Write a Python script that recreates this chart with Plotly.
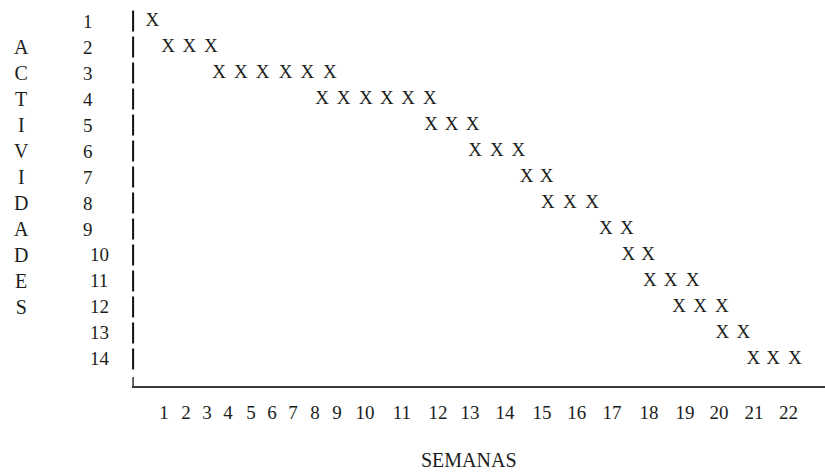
import plotly.graph_objects as go

# ---------------- data ----------------
activities = list(range(1, 15))
weeks = list(range(1, 23))
# position of each week label on the chart's horizontal slot scale (1 unit = one "X" slot)
week_pos = [1.47, 2.49, 3.46, 4.42, 5.48, 6.45, 7.42, 8.43, 9.45, 10.74, 12.44,
            14.10, 15.58, 17.19, 18.89, 20.50, 22.12, 23.82, 25.48, 27.05, 28.66, 30.25]

# every "X" mark: the activity it belongs to and its slot position
mark_activity = [1,
                 2, 2, 2,
                 3, 3, 3, 3, 3, 3,
                 4, 4, 4, 4, 4, 4,
                 5, 5, 5,
                 6, 6, 6,
                 7, 7,
                 8, 8, 8,
                 9, 9,
                 10, 10,
                 11, 11, 11,
                 12, 12, 12,
                 13, 13,
                 14, 14, 14]
mark_slot = [0.94,
             1.67, 2.64, 3.63,
             4.02, 5.02, 6.02, 7.08, 8.08, 9.12,
             8.76, 9.75, 10.78, 11.74, 12.73, 13.73,
             13.78, 14.73, 15.70,
             15.81, 16.81, 17.80,
             18.19, 19.11,
             19.17, 20.18, 21.20,
             21.84, 22.80,
             22.87, 23.79,
             23.87, 24.82, 25.84,
             25.21, 26.18, 27.18,
             27.21, 28.17,
             28.63, 29.55, 30.55]

y_title = "ACTIVIDADES"
x_title = "SEMANAS"

# ---------------- style ----------------
INK = "#1b1e1b"
FONT = "Liberation Serif"
PLOT_W = 693.0  # plot area width in px (825 - left margin)
PLOT_H = 386.0  # plot area height in px (473 - bottom margin)

fig = go.Figure()

# the typed "|" column marking the activity axis
fig.add_trace(go.Scatter(
    x=[0.05] * len(activities), y=activities, mode="markers",
    marker=dict(symbol="line-ns", size=15, color="#111111",
                line=dict(width=2, color="#111111")),
    cliponaxis=False, hoverinfo="skip", showlegend=False))

# the X marks
fig.add_trace(go.Scatter(
    x=mark_slot, y=mark_activity, mode="text",
    text=["X"] * len(mark_slot), textposition="middle center",
    textfont=dict(family=FONT, size=19, color=INK),
    cliponaxis=False, hoverinfo="skip", showlegend=False))

annotations = []
# activity numbers
for a in activities:
    annotations.append(dict(
        x=(81 - 132) / PLOT_W if a < 10 else (88 - 132) / PLOT_W, xref="paper",
        y=a, yref="y",
        text=str(a), showarrow=False, xanchor="left", yanchor="middle",
        font=dict(family=FONT, size=19, color=INK)))
# vertical axis word
annotations.append(dict(
    x=(21 - 132) / PLOT_W, xref="paper", y=7, yref="y",
    text="<br>".join(list(y_title)), showarrow=False,
    xanchor="center", yanchor="middle", align="center",
    font=dict(family=FONT, size=20, color=INK)))
# horizontal axis word
annotations.append(dict(
    x=(469 - 132) / PLOT_W, xref="paper", y=-(473 - PLOT_H) / PLOT_H, yref="paper",
    text=x_title, showarrow=False, xanchor="center", yanchor="bottom",
    font=dict(family=FONT, size=20, color=INK)))

fig.update_layout(
    width=825, height=473,
    margin=dict(l=132, r=0, t=0, b=87),
    paper_bgcolor="white", plot_bgcolor="white",
    annotations=annotations,
    shapes=[dict(type="line", xref="x", yref="y", x0=0.05, x1=0.05,
                 y0=14.69, y1=15.04, line=dict(color="#333333", width=1.5))],
    xaxis=dict(range=[0, PLOT_W / 21.7], showgrid=False, zeroline=False,
               showline=True, linewidth=2, linecolor="#3a3a3a",
               tickmode="array", tickvals=week_pos, ticktext=[str(w) for w in weeks],
               ticks="", ticklabelstandoff=8,
               tickfont=dict(family=FONT, size=19, color=INK)),
    yaxis=dict(range=[15.04, 0.19], visible=False, showgrid=False, zeroline=False),
)

fig.write_html("out.html", config={"displayModeBar": False},
               post_script="document.body.style.margin='0';")
